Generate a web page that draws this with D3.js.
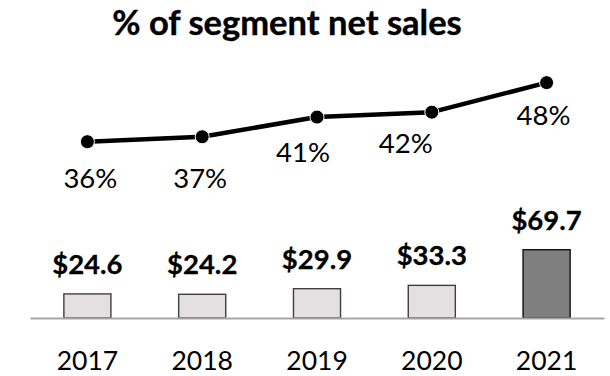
<!DOCTYPE html>
<html>
<head>
<meta charset="utf-8">
<script src="https://cdn.jsdelivr.net/npm/d3@7"></script>
<style>
  html, body { margin: 0; padding: 0; background: #ffffff; }
  svg { display: block; }
  text { font-family: Lato, "Open Sans", "Liberation Sans", sans-serif; fill: #000; }
</style>
</head>
<body>
<svg id="chart" width="610" height="376"></svg>
<script>
// Segment net sales ($B) and share of segment net sales (%)
const years = ["2017", "2018", "2019", "2020", "2021"];
const netSales = [24.6, 24.2, 29.9, 33.3, 69.7];
const shareOfSales = [36, 37, 41, 42, 48];
const salesLabels = ["$24.6", "$24.2", "$29.9", "$33.3", "$69.7"];
const shareLabels = ["36%", "37%", "41%", "42%", "48%"];
const titleText = "% of segment net sales";

// label placement relative to each point (layout only)
const shareLabelDx = [3, -2, -14, -26, -3];
const shareLabelDy = [46, 51, 45, 41, 42];

const W = 610, H = 376;
const baseY = 318;
const svg = d3.select("#chart");

svg.append("rect").attr("width", W).attr("height", H).attr("fill", "#ffffff");

const x = d3.scaleBand()
  .domain(years)
  .range([30, 604])
  .paddingInner(0.59)
  .paddingOuter(0.295);

const yBar = d3.scaleLinear().domain([0, 100]).range([baseY, 220]);
const yPct = d3.scaleLinear().domain([0, 100]).range([318.8, 318.8 - 492]);

const cx = d => x(d) + x.bandwidth() / 2;

// title
svg.append("text")
  .attr("x", 287)
  .attr("y", 35)
  .attr("text-anchor", "middle")
  .attr("font-weight", 700)
  .attr("font-size", 34.5)
  .attr("stroke", "#000")
  .attr("stroke-width", 0.4)
  .text(titleText);

// bars
const isLast = i => i === years.length - 1;
svg.append("g").selectAll("rect")
  .data(years)
  .join("rect")
  .attr("x", d => x(d))
  .attr("width", x.bandwidth())
  .attr("y", (d, i) => yBar(netSales[i]))
  .attr("height", (d, i) => baseY - yBar(netSales[i]))
  .attr("fill", (d, i) => isLast(i) ? "#7f7f7f" : "#e4e0e1")
  .attr("stroke", (d, i) => isLast(i) ? "#111111" : "#3f3f3f")
  .attr("stroke-width", 1.4);

// baseline axis
const axis = d3.axisBottom(x).tickSize(0);
const axisG = svg.append("g")
  .attr("transform", `translate(0,${baseY})`)
  .call(axis);
axisG.select(".domain").attr("stroke", "#a6a6a6").attr("stroke-width", 2);
axisG.selectAll(".tick text")
  .attr("font-size", 26.5)
  .attr("font-family", "Lato, 'Open Sans', sans-serif")
  .attr("fill", "#000")
  .attr("dy", "0")
  .attr("y", 52);

// bar value labels
svg.append("g").selectAll("text")
  .data(years)
  .join("text")
  .attr("x", d => cx(d))
  .attr("y", (d, i) => yBar(netSales[i]) - 20)
  .attr("text-anchor", "middle")
  .attr("font-weight", 700)
  .attr("font-size", 27.5)
  .attr("stroke", "#000")
  .attr("stroke-width", 0.3)
  .text((d, i) => salesLabels[i]);

// share line
const line = d3.line()
  .x((d, i) => cx(years[i]))
  .y(d => yPct(d));

svg.append("path")
  .datum(shareOfSales)
  .attr("d", line)
  .attr("fill", "none")
  .attr("stroke", "#000")
  .attr("stroke-width", 4.5)
  .attr("stroke-linejoin", "round");

svg.append("g").selectAll("circle")
  .data(shareOfSales)
  .join("circle")
  .attr("cx", (d, i) => cx(years[i]))
  .attr("cy", d => yPct(d))
  .attr("r", 7)
  .attr("fill", "#000")
  .attr("stroke", "#ffffff")
  .attr("stroke-width", 1);

svg.append("g").selectAll("text")
  .data(shareOfSales)
  .join("text")
  .attr("x", (d, i) => cx(years[i]) + shareLabelDx[i])
  .attr("y", (d, i) => yPct(d) + shareLabelDy[i])
  .attr("text-anchor", "middle")
  .attr("font-size", 27.5)
  .text((d, i) => shareLabels[i]);
</script>
</body>
</html>
